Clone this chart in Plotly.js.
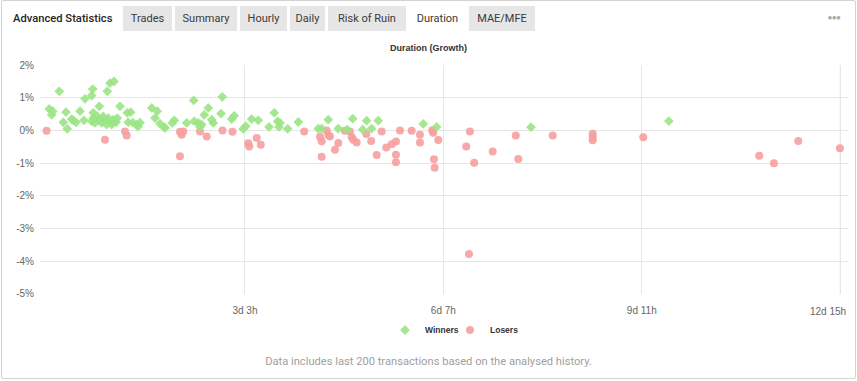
<!DOCTYPE html>
<html>
<head>
<meta charset="utf-8">
<script src="https://cdn.plot.ly/plotly-3.0.1.min.js"></script>
<style>
  html, body { margin:0; padding:0; background:#fff; }
  #page { position:relative; width:857px; height:381px; overflow:hidden; background:#fff; }
  #card { position:absolute; left:1px; top:0px; width:853px; height:377px; border:1px solid #d2d2d2; border-radius:2px; }
  #chart { position:absolute; left:0; top:0; width:857px; height:381px; z-index:1; }
  .tab { position:absolute; top:6px; height:25px; line-height:25px; background:#e6e6e6; color:#3a3a3a;
         font-family:Roboto, "Open Sans", sans-serif; font-size:11px; text-align:center; z-index:2; }
  .tab.active { background:#fff; }
  #adv { position:absolute; left:13px; top:6px; height:25px; line-height:25px; color:#262626; font-family:Roboto, sans-serif;
         font-size:11.2px; font-weight:500; z-index:2; }
  #dots { position:absolute; left:828px; top:6px; height:25px; line-height:24px; color:#a8a8a8; font-family:"DejaVu Sans", sans-serif;
          font-size:4.5px; letter-spacing:0.3px; z-index:2; }
  #foot { position:absolute; left:0; width:857px; top:355px; text-align:center; color:#a0a0a0; font-family:Roboto, sans-serif;
          font-size:11.15px; z-index:2; }
</style>
</head>
<body>
<div id="page">
  <div id="card"></div>
  <div id="adv">Advanced Statistics</div>
  <div class="tab" style="left:123px;width:49px;">Trades</div>
  <div class="tab" style="left:175px;width:62px;">Summary</div>
  <div class="tab" style="left:240px;width:47px;">Hourly</div>
  <div class="tab" style="left:290px;width:35px;">Daily</div>
  <div class="tab" style="left:328px;width:78px;">Risk of Ruin</div>
  <div class="tab active" style="left:408px;width:59px;">Duration</div>
  <div class="tab" style="left:469px;width:66px;">MAE/MFE</div>
  <div id="dots">&#9679;&#9679;&#9679;</div>
  <div id="chart"></div>
  <div id="foot">Data includes last 200 transactions based on the analysed history.</div>
</div>
<script>
// Duration in hours, growth in %
const winnersX = [1.03,2.33,1.95,4.86,7.42,6.39,7.92,9.60,10.21,11.25,12.78,14.31,14.69,17.64,17.25,17.87,20.16,23.22,24.25,25.78,
  17.25,17.87,18.52,19.40,20.16,21.08,21.69,22.34,22.99,23.60,24.25,24.90,25.52,26.55,27.05,
  28.08,30.87,32.17,31.25,33.05,34.47,35.73,34.97,40.21,42.35,41.47,43.38,44.91,45.30,48.09,48.85,53.60,56.27,56.50,58.03,
  58.68,59.33,60.33,61.86,63.16,63.77,67.21,66.72,70.81,71.81,75.25,76.17,78.46,80.99,85.08,87.11,88.41,88.91,89.29,92.23,
  96.29,103.94,105.24,107.77,111.59,115.04,117.10,120.93,122.46,124.37,126.89,144.11,149.23,185.31,238.07];
const winnersY = [0.66,0.59,0.48,1.20,0.56,0.25,0.05,0.35,0.31,0.25,0.59,0.31,0.97,1.27,1.07,0.54,0.74,1.20,1.45,1.50,
  0.28,0.38,0.23,0.43,0.33,0.23,0.43,0.31,0.18,0.38,0.28,0.18,0.33,0.25,0.38,
  0.74,0.54,0.56,0.25,0.24,0.18,0.24,0.12,0.69,0.59,0.38,0.21,0.11,0.08,0.23,0.31,0.23,0.92,0.28,0.23,
  0.11,0.18,0.48,0.69,0.33,0.23,1.03,0.52,0.35,0.45,0.05,0.13,0.35,0.31,0.11,0.54,0.28,0.11,0.23,0.05,
  0.26,0.06,0.06,0.33,0.06,0.03,0.36,0.03,0.30,0.06,0.30,0.20,0.11,0.10,0.29];
const losersX = [0,22.34,29.99,30.64,51.03,51.68,52.30,51.03,58.68,61.25,67.29,71.12,77.16,77.51,80.38,81.94,
  98.55,104.59,105.24,105.24,107.15,107.77,108.42,110.33,111.59,114.15,116.07,116.72,117.33,118.63,122.31,124.18,126.28,
  128.20,129.95,132.02,133.66,133.66,133.66,135.19,139.67,142.84,142.84,147.55,147.93,148.20,148.47,149.85,
  160.56,161.97,163.58,161.59,170.66,179.50,180.45,193.61,208.92,208.92,208.92,228.27,272.65,278.27,287.57,303.52];
const losersY = [-0.01,-0.28,-0.03,-0.15,-0.04,-0.13,-0.03,-0.79,-0.03,-0.18,0.00,-0.04,-0.39,-0.49,-0.23,-0.44,
  -0.03,-0.19,-0.33,-0.80,0.00,-0.14,-0.18,-0.59,-0.38,-0.01,-0.03,-0.20,-0.28,-0.37,-0.11,-0.32,-0.75,
  -0.03,-0.52,-0.42,-0.34,-0.74,-0.97,0.00,-0.01,-0.13,-0.37,0.01,-0.07,-0.88,-1.14,-0.29,
  -0.49,-0.03,-0.99,-3.78,-0.64,-0.15,-0.87,-0.15,-0.10,-0.20,-0.30,-0.21,-0.77,-1.00,-0.32,-0.54];
const xTickVals = [75.9, 151.8, 227.7, 303.6];
const xTickText = ['3d 3h', '6d 7h', '9d 11h', '12d 15h'];
const yTickVals = [-5, -4, -3, -2, -1, 0, 1, 2];
const yTickText = ['-5%', '-4%', '-3%', '-2%', '-1%', '0%', '1%', '2%'];
const seriesNames = ['Winners', 'Losers'];
const chartTitle = 'Duration (Growth)';

const nTicks = xTickVals.length;
const shownTickText = xTickText.map((t, i) => i === nTicks - 1 ? ' ' : t);

const traces = [
  { type:'scatter', mode:'markers', name:seriesNames[1], x:losersX, y:losersY, legend:'legend2',
    marker:{ symbol:'circle', size:8, color:'rgba(246,158,158,0.9)', line:{width:0} } },
  { type:'scatter', mode:'markers', name:seriesNames[0], x:winnersX, y:winnersY, legend:'legend',
    marker:{ symbol:'diamond', size:7.5, color:'rgba(155,228,132,0.9)', line:{width:0} } }
];
const fontFam = '"Liberation Sans", Arial, sans-serif';
const tickFont = { family:fontFam, size:10, color:'#666' };
const legendFont = { family:fontFam, size:8.5, color:'#333', weight:'bold' };
const gridColor = '#e6e6e6';
const legendBase = { orientation:'h', xref:'container', yref:'container', xanchor:'left', y:1 - 330/381, yanchor:'middle',
                     font:legendFont, itemclick:false, itemdoubleclick:false, bgcolor:'rgba(0,0,0,0)' };
const layout = {
  width:857, height:381,
  margin:{ l:40, r:9, t:65, b:87 },
  paper_bgcolor:'rgba(0,0,0,0)', plot_bgcolor:'rgba(0,0,0,0)',
  showlegend:true,
  title:{ text:'<b>' + chartTitle + '</b>', x:0.5, xanchor:'center', xref:'container', y:1 - 48/381, yanchor:'middle', yref:'container',
          font:{ family:fontFam, size:9, color:'#333' } },
  xaxis:{ range:[-2.52, 306.6], tickvals:xTickVals, ticktext:shownTickText, showgrid:true, gridcolor:gridColor, gridwidth:1,
          zeroline:false, showline:false, ticks:'', ticklabelstandoff:9, ticklabeloverflow:'allow', tickfont:tickFont, fixedrange:true },
  yaxis:{ range:[-5.005, 2.005], tickvals:yTickVals, ticktext:yTickText, showgrid:true, gridcolor:gridColor, gridwidth:1,
          zeroline:false, showline:false, ticks:'', ticklabelstandoff:5, tickfont:tickFont, fixedrange:true },
  shapes:[
    { type:'line', layer:'below', xref:'x', yref:'y', x0:xTickVals[nTicks - 1], x1:xTickVals[nTicks - 1],
      y0:yTickVals[0], y1:yTickVals[yTickVals.length - 1], line:{ color:gridColor, width:1 } }
  ],
  annotations:[
    { xref:'x', yref:'paper', x:xTickVals[nTicks - 1], y:0, xanchor:'right', yanchor:'top', xshift:8, yshift:-10,
      text:xTickText[nTicks - 1], showarrow:false, font:tickFont }
  ],
  legend:Object.assign({}, legendBase, { x:385/857 }),
  legend2:Object.assign({}, legendBase, { x:450/857 })
};
Plotly.newPlot('chart', traces, layout, { displayModeBar:false, staticPlot:true });
</script>
</body>
</html>
